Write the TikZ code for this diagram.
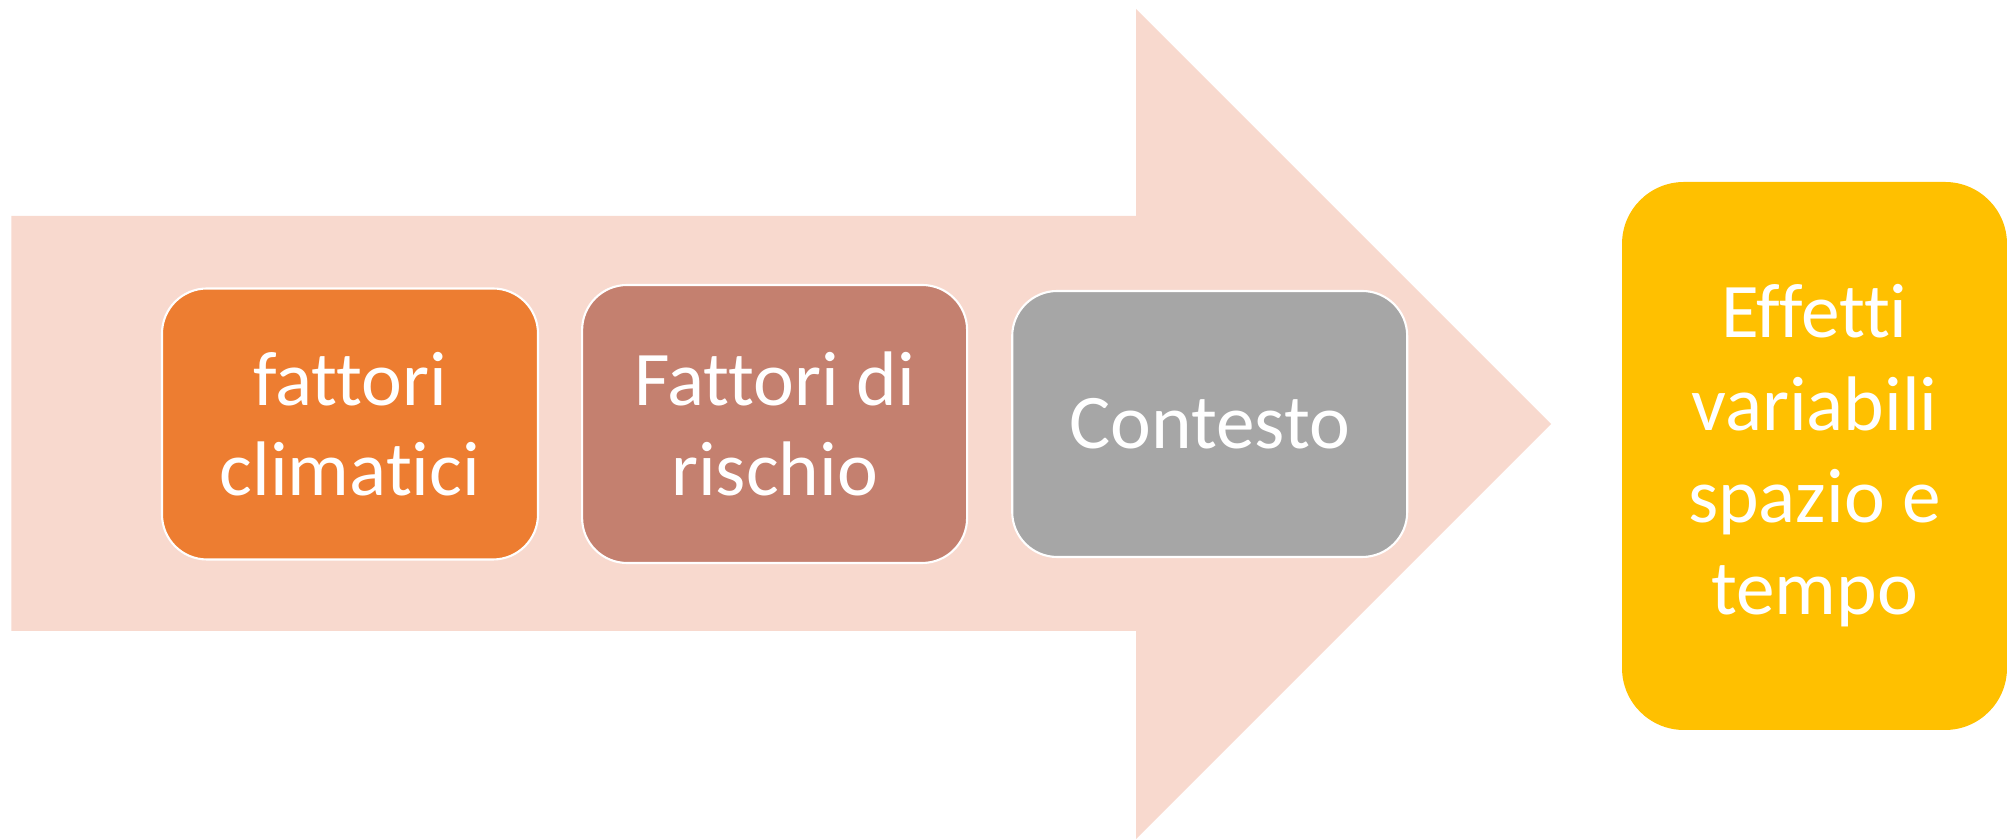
\documentclass[tikz,border=0pt]{standalone}
\usepackage{fontspec}
\setmainfont[Ligatures={NoCommon}]{Carlito}
\usepackage{tikz}
\usetikzlibrary{positioning}
\usepackage{xcolor}

\definecolor{arrowpink}{HTML}{F8D9CE}
\definecolor{clima}{HTML}{ED7D31}
\definecolor{rischio}{HTML}{C4806F}
\definecolor{contesto}{HTML}{A6A6A6}
\definecolor{effetti}{HTML}{FFC000}

\begin{document}
\begin{tikzpicture}[
        node distance=0.85cm,
        stepbox/.style={rectangle, rounded corners=0.9cm, draw=white, line width=1.2pt,
            text=white, align=center, inner sep=0pt,
            font=\fontsize{44}{51}\selectfont},
        endbox/.style={stepbox, draw=none, fill=effetti, rounded corners=1.24cm,
            minimum width=7.7cm, minimum height=10.96cm,
            font=\fontsize{44}{52.5}\selectfont}
    ]
        \useasboundingbox (0,0) rectangle (40.14,16.78);

        % Background arrow
        \fill[arrowpink] (0.23,12.46) -- (22.72,12.46) -- (22.72,16.6)
            -- (31.02,8.3) -- (22.72,0) -- (22.72,4.16) -- (0.23,4.16) -- cycle;

        % Steps
        \node[stepbox, fill=clima, minimum width=7.52cm, minimum height=5.42cm]
            (clima) at (7.0,8.3) {fattori\\climatici};
        \node[stepbox, fill=rischio, minimum width=7.7cm, minimum height=5.56cm,
            right=0.84cm of clima] (rischio) {Fattori di\\rischio};
        \node[stepbox, fill=contesto, minimum width=7.9cm, minimum height=5.32cm,
            right=0.86cm of rischio] (contesto) {Contesto};

        % Result
        \node[endbox] (effetti) at (36.29,7.66) {Effetti\\variabili\\spazio e\\tempo};

    \end{tikzpicture}
\end{document}
